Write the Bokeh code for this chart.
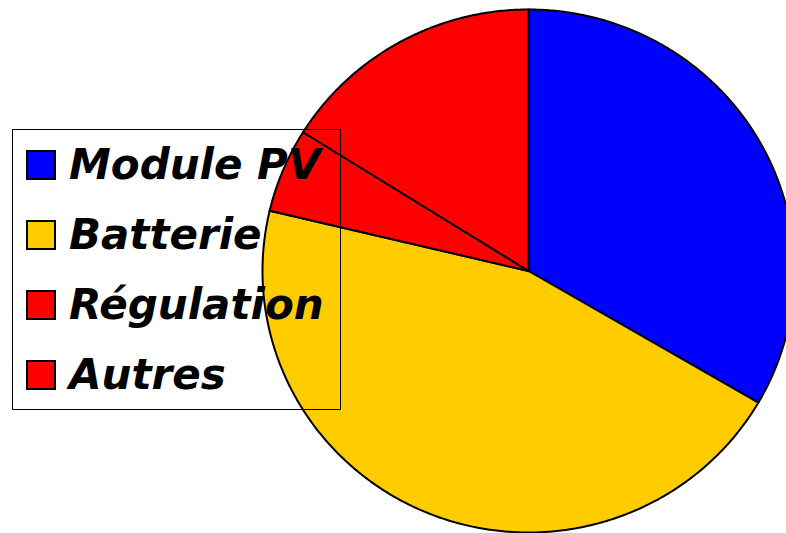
import numpy as np
from bokeh.plotting import figure
from bokeh.models import Legend, LegendItem, Range1d
from bokeh.embed import file_html
from bokeh.resources import INLINE

categories = ["Module PV", "Batterie", "Régulation", "Autres"]
values = [33.4, 45.3, 5.2, 16.1]
colors = ["#0000FF", "#FFCC00", "#FF0000", "#FF0000"]

p = figure(width=786, height=533, output_backend="svg", toolbar_location=None,
           x_range=Range1d(-528 / 266, 258 / 266),
           y_range=Range1d(-262.5 / 261.5, 270.5 / 261.5),
           min_border=0)
p.axis.visible = False
p.grid.visible = False
p.outline_line_color = None
p.background_fill_color = "white"

total = float(sum(values))
start = np.pi / 2
items = []
for cat, v, c in zip(categories, values, colors):
    span = 2 * np.pi * v / total
    n = max(int(span * 120), 3)
    t = np.linspace(start, start - span, n)
    xs = np.concatenate([[0.0], np.cos(t), [0.0]])
    ys = np.concatenate([[0.0], np.sin(t), [0.0]])
    r = p.patch(xs, ys, fill_color=c, line_color="black", line_width=2,
                line_join="miter")
    items.append(LegendItem(label=cat, renderers=[r]))
    start -= span

legend = Legend(items=items, location=(12, 123), orientation="vertical",
                background_fill_alpha=0.0, border_line_color="black",
                border_line_alpha=1.0, border_line_width=1.5,
                padding=10, margin=0, spacing=21,
                glyph_width=35, glyph_height=35, label_standoff=11,
                label_width=261,
                label_text_font="DejaVu Sans", label_text_font_style="bold italic",
                label_text_font_size="42px", label_text_color="black")
p.add_layout(legend)

open("out.html", "w").write(file_html(p, INLINE))
